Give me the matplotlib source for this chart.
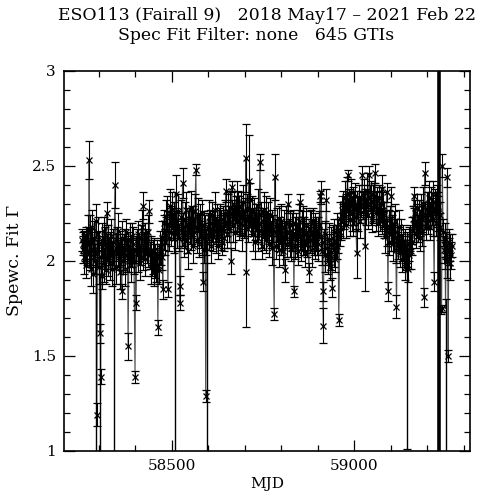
import matplotlib
matplotlib.use("Agg")
import matplotlib.pyplot as plt
import numpy as np

# ---- regular GTI fits: MJD, photon index, symmetric 1-sigma error ----
mjd = [58255.2, 58256.8, 58258.1, 58259.9, 58261.3, 58263.0, 58264.6, 58266.2, 58267.9, 58269.5, 58271.0, 58272.6,
       58274.4, 58276.0, 58277.5, 58279.1, 58280.7, 58282.2, 58283.8, 58285.4, 58287.0, 58288.6, 58290.2, 58292.0,
       58295.0, 58296.8, 58298.4, 58300.0, 58301.6, 58303.2, 58305.5, 58307.0, 58308.6, 58310.3, 58312.0, 58313.7,
       58315.3, 58317.0, 58318.7, 58320.4, 58322.0, 58323.7, 58325.4, 58327.1, 58328.8,
       58330.5, 58332.2, 58334.0, 58335.8, 58337.5, 58339.2, 58341.0, 58345.0, 58346.8, 58348.5, 58350.3, 58352.0,
       58354.0, 58356.0, 58358.0, 58360.0, 58362.0, 58363.5, 58365.5, 58367.5, 58369.5, 58371.5, 58373.5, 58375.5,
       58377.5, 58379.5, 58381.0, 58383.0, 58385.0, 58387.0, 58389.0, 58391.0, 58393.0, 58395.0, 58397.0, 58400.0,
       58401.5, 58403.0,
       58405.0, 58407.0, 58409.0, 58411.0, 58413.0, 58415.0, 58417.0, 58419.0, 58421.0, 58422.5, 58424.5, 58426.5,
       58428.5, 58430.5, 58432.5, 58434.5, 58436.5, 58439.0,
       58441.0, 58443.0, 58445.0, 58447.0, 58449.0, 58451.0, 58453.0, 58455.0, 58457.0, 58459.0, 58461.0, 58462.5,
       58464.5, 58466.5, 58468.5,
       58470.5, 58472.5, 58474.5, 58476.0, 58478.0, 58480.0, 58482.0, 58484.0, 58486.0, 58488.0, 58490.0, 58492.0,
       58494.0, 58495.5, 58497.5, 58499.5, 58501.5, 58503.5, 58505.5, 58507.5, 58511.0, 58513.0, 58515.0, 58517.0,
       58519.0,
       58521.0, 58523.0, 58524.5, 58526.5, 58528.5, 58530.0, 58532.0, 58534.0, 58536.0, 58538.0, 58540.0, 58542.0,
       58544.0, 58546.0, 58548.0, 58550.0, 58552.0, 58554.0, 58556.0, 58558.0,
       58560.0, 58562.0, 58564.0, 58566.5, 58568.5, 58570.5, 58572.5, 58574.5, 58576.5, 58578.5, 58580.5, 58582.5,
       58584.5, 58586.0, 58588.0, 58590.0, 58592.0, 58593.5, 58595.5, 58599.5, 58601.5, 58603.5, 58605.5, 58607.5,
       58609.5, 58611.5, 58613.5, 58615.5, 58618.5,
       58620.5, 58622.5, 58624.5, 58626.5, 58628.5, 58630.5, 58632.5, 58634.5, 58636.5, 58638.5, 58640.5, 58642.5,
       58644.5, 58646.5, 58648.5, 58650.5, 58652.5, 58654.5, 58656.5, 58658.5,
       58661.0, 58663.0, 58664.5, 58666.5, 58668.5, 58670.5, 58672.5, 58674.5, 58676.5, 58678.5, 58680.5, 58682.0,
       58684.0, 58686.0, 58688.0, 58690.0, 58692.0, 58694.0, 58696.0, 58698.0, 58700.0, 58702.0, 58703.5, 58705.0,
       58707.0, 58709.0, 58711.5, 58713.5, 58715.5, 58717.5, 58719.5,
       58721.5, 58723.5, 58725.5, 58727.5, 58729.5, 58731.5, 58733.5, 58735.5, 58737.5, 58739.5, 58742.0, 58744.0,
       58746.0, 58748.0, 58750.0, 58752.0, 58754.0, 58756.0, 58758.0, 58760.0, 58762.0, 58764.0, 58766.0, 58768.0,
       58770.0, 58772.0, 58774.0, 58776.0, 58778.0,
       58781.0, 58783.0, 58785.0, 58787.0, 58789.0, 58791.0, 58793.0, 58795.0, 58797.0, 58799.0, 58801.0, 58803.0,
       58805.0, 58807.0, 58810.0, 58812.0, 58814.0, 58816.0, 58819.0, 58821.0, 58823.0, 58825.0, 58827.0, 58829.0,
       58831.0, 58833.0, 58835.0, 58837.0, 58839.0, 58841.0, 58843.0, 58845.0, 58847.0, 58849.0, 58851.0, 58853.0,
       58855.0, 58857.0, 58859.0, 58861.0, 58863.0, 58865.0, 58867.0, 58869.0, 58871.0, 58873.0, 58876.0, 58878.0,
       58880.0, 58882.0, 58884.0, 58886.0, 58888.0, 58890.0, 58892.0, 58894.0, 58896.0, 58898.0,
       58900.0, 58902.0, 58904.0, 58906.0, 58908.0, 58910.0, 58912.0, 58914.0, 58915.5, 58917.5, 58919.5, 58921.5,
       58924.0, 58926.0, 58928.0, 58930.0, 58932.0, 58934.0, 58936.0, 58938.0, 58940.0, 58942.0, 58944.0, 58946.0,
       58948.0, 58950.0, 58952.0, 58954.0, 58956.0, 58958.0,
       58960.5, 58962.5, 58964.5, 58966.5, 58968.5, 58970.5, 58972.5, 58974.5, 58976.5, 58978.5, 58980.5, 58982.0,
       58984.0, 58986.0, 58988.0, 58990.0, 58992.0, 58994.0, 58996.0, 58998.0, 59000.0, 59002.0, 59004.0, 59007.0,
       59009.0, 59011.0, 59013.0, 59015.0, 59017.0, 59019.5,
       59022.0, 59024.0, 59026.0, 59029.0, 59031.0, 59033.0, 59035.0, 59037.0, 59039.0, 59041.0, 59043.0, 59045.0,
       59047.0, 59049.0, 59051.0, 59053.0, 59055.0, 59057.0, 59059.0, 59061.0, 59063.0, 59065.0, 59067.0, 59069.0,
       59071.0, 59073.0, 59075.0, 59077.0, 59079.0,
       59081.0, 59083.0, 59085.0, 59087.0, 59089.0, 59091.0, 59092.5, 59094.5, 59096.5, 59098.5, 59100.5, 59102.0,
       59104.0, 59106.0, 59108.0, 59110.0, 59112.0, 59114.0, 59116.0, 59118.0, 59120.0, 59122.0, 59124.0, 59126.0,
       59128.0,
       59130.0, 59132.0, 59134.0, 59136.0, 59138.0, 59140.0, 59142.0, 59145.5, 59147.5, 59149.5, 59151.5, 59153.5,
       59155.5, 59157.5,
       59159.5, 59161.5, 59163.0, 59165.0, 59167.0, 59169.0, 59171.0, 59173.0, 59175.0, 59177.0, 59179.0, 59181.0,
       59183.0, 59185.0, 59187.0, 59189.0, 59191.0, 59193.0, 59195.0, 59197.0, 59199.0,
       59201.0, 59203.0, 59205.0, 59207.0, 59209.0, 59211.0, 59213.0, 59215.0, 59217.0, 59219.0, 59221.0, 59223.0,
       59225.0, 59227.0, 59229.0, 59231.0, 59234.0, 59236.0, 59237.5, 59239.5, 59241.5,
       59243.5, 59245.5, 59247.5, 59249.0, 59252.0, 59253.5, 59255.5, 59257.5, 59259.0, 59260.5, 59262.0, 59263.5,
       59265.0, 59266.8]

gamma = [2.11, 2.06, 2.09, 2.02, 2.10, 2.07, 1.98, 2.12, 2.05, 2.09, 2.17, 2.04,
         2.53, 2.15, 2.02, 1.96, 2.10, 2.18, 2.05, 1.93, 2.08, 2.12, 2.00, 2.21,
         1.19, 2.04, 2.14, 1.97, 2.09, 1.62, 1.39, 2.02, 1.92, 2.11, 2.06, 1.98,
         2.16, 2.03, 2.09, 1.95, 2.25, 2.07, 2.01, 2.12, 2.05,
         1.99, 2.08, 2.13, 2.03, 1.96, 2.10, 2.05, 2.40, 2.07, 1.97, 2.11, 2.04,
         2.16, 2.02, 1.94, 2.09, 2.05, 1.84, 2.12, 2.00, 2.07, 1.96, 2.10, 2.15,
         2.03, 2.08, 1.55, 2.01, 2.11, 2.06, 1.98, 2.13, 2.04, 2.09, 2.00, 1.39,
         2.06, 1.78,
         2.10, 2.03, 2.14, 2.07, 1.99, 2.12, 2.05, 2.18, 2.02, 2.29, 2.08, 2.13,
         2.01, 2.10, 2.06, 2.15, 2.04, 2.26,
         2.03, 1.97, 2.06, 1.99, 2.02, 1.94, 2.05, 2.00, 1.96, 2.04, 1.98, 1.65,
         2.02, 1.95, 2.07,
         2.05, 2.12, 2.02, 1.85, 2.15, 2.20, 2.10, 2.23, 2.16, 2.25, 1.85, 2.19,
         2.12, 2.29, 2.22, 2.15, 2.27, 2.18, 2.24, 2.13, 2.35, 2.21, 2.14, 2.26,
         2.19,
         2.12, 1.78, 1.87, 2.23, 2.15, 2.41, 2.18, 2.09, 2.22, 2.14, 2.27, 2.11,
         2.19, 2.05, 2.21, 2.16, 2.28, 2.13, 2.20, 2.08,
         2.22, 2.15, 2.26, 2.48, 2.18, 2.11, 2.24, 2.17, 2.09, 2.21, 2.14, 2.25,
         2.12, 1.89, 2.19, 2.06, 2.15, 1.29, 2.10, 2.18, 2.23, 2.13, 2.20, 2.08,
         2.17, 2.24, 2.14, 2.19, 2.27,
         2.16, 2.11, 2.21, 2.15, 2.08, 2.19, 2.23, 2.13, 2.18, 2.10, 2.22, 2.16,
         2.12, 2.25, 2.37, 2.20, 2.14, 2.26, 2.17, 2.22,
         2.28, 2.00, 2.39, 2.25, 2.19, 2.30, 2.22, 2.15, 2.27, 2.21, 2.33, 2.30,
         2.18, 2.25, 2.20, 2.29, 2.14, 2.24, 2.31, 2.19, 2.26, 2.22, 2.54, 1.94,
         2.28, 2.17, 2.42, 2.25, 2.32, 2.20, 2.27,
         2.21, 2.14, 2.26, 2.18, 2.10, 2.23, 2.17, 2.29, 2.12, 2.20, 2.52, 2.24,
         2.16, 2.08, 2.21, 2.27, 2.13, 2.19, 2.25, 2.11, 2.18, 2.22, 2.09, 2.16,
         2.24, 2.14, 2.20, 2.07, 2.17,
         1.72, 2.44, 2.15, 2.08, 2.19, 2.12, 2.22, 2.06, 2.16, 2.10, 2.21, 2.13,
         2.05, 2.18, 1.95, 2.14, 2.20, 2.09, 2.30, 2.15, 2.11, 2.19, 2.07, 2.16,
         2.12, 2.20, 1.84, 2.14, 2.08, 2.18, 2.11, 2.05, 2.16, 2.21, 2.31, 2.13,
         2.07, 2.17, 2.10, 2.22, 2.14, 2.04, 2.15, 2.19, 2.09, 2.13, 1.94, 2.17,
         2.11, 2.20, 2.06, 2.15, 2.21, 2.12, 2.08, 2.18, 2.14, 2.10,
         2.16, 2.09, 2.19, 2.34, 2.13, 2.36, 2.05, 1.84, 1.66, 2.10, 2.03, 2.14,
         2.32, 2.07, 2.00, 2.11, 2.05, 1.97, 2.09, 2.02, 1.86, 2.12, 2.06, 2.15,
         2.01, 2.10, 2.18, 2.08, 2.13, 1.69,
         2.15, 2.22, 2.18, 2.27, 2.21, 2.30, 2.24, 2.33, 2.19, 2.28, 2.35, 2.45,
         2.26, 2.31, 2.22, 2.29, 2.36, 2.25, 2.32, 2.20, 2.28, 2.34, 2.23, 2.04,
         2.30, 2.25, 2.33, 2.27, 2.21, 2.30,
         2.45, 2.29, 2.34, 2.08, 2.31, 2.26, 2.37, 2.30, 2.24, 2.45, 2.33, 2.28,
         2.35, 2.22, 2.31, 2.27, 2.34, 2.46, 2.29, 2.25, 2.32, 2.20, 2.28, 2.33,
         2.23, 2.30, 2.38, 2.21, 2.27,
         2.19, 2.24, 2.13, 2.20, 2.36, 2.15, 1.84, 2.18, 2.10, 2.22, 2.14, 2.34,
         2.17, 2.09, 2.19, 2.12, 2.21, 2.06, 1.76, 2.15, 2.08, 2.18, 2.11, 2.04,
         2.13,
         2.07, 2.01, 2.10, 2.04, 1.97, 2.08, 2.02, 2.06, 1.96, 2.09, 2.03, 2.12,
         2.05, 2.10,
         2.16, 2.22, 2.34, 2.19, 2.25, 2.14, 2.21, 2.28, 2.17, 2.23, 2.12, 2.20,
         2.26, 2.15, 2.22, 2.30, 1.81, 2.46, 2.24, 2.18, 2.27,
         2.21, 2.29, 2.33, 2.24, 2.18, 2.30, 2.26, 2.35, 2.22, 1.89, 2.31, 2.27,
         2.20, 2.33, 2.25, 2.29, 2.24, 2.18, 1.74, 1.75, 2.50,
         2.15, 2.06, 2.11, 2.03, 2.08, 2.00, 2.44, 1.50, 2.05, 2.10, 1.99, 2.07,
         2.03, 2.08]

err = [0.06, 0.07, 0.06, 0.09, 0.06, 0.07, 0.07, 0.06, 0.07, 0.06, 0.07, 0.07,
       0.10, 0.09, 0.07, 0.09, 0.07, 0.09, 0.07, 0.10, 0.07, 0.09, 0.07, 0.09,
       0.06, 0.07, 0.09, 0.09, 0.07, 0.05, 0.04, 0.09, 0.07, 0.09, 0.07, 0.09,
       0.07, 0.07, 0.09, 0.07, 0.06, 0.07, 0.09, 0.07, 0.07,
       0.09, 0.07, 0.09, 0.07, 0.09, 0.07, 0.07, 0.12, 0.07, 0.09, 0.07, 0.07,
       0.09, 0.07, 0.09, 0.07, 0.07, 0.04, 0.09, 0.07, 0.07, 0.09, 0.07, 0.07,
       0.09, 0.07, 0.07, 0.07, 0.09, 0.07, 0.09, 0.07, 0.07, 0.09, 0.07, 0.03,
       0.07, 0.04,
       0.07, 0.09, 0.07, 0.07, 0.09, 0.07, 0.07, 0.09, 0.07, 0.07, 0.07, 0.07,
       0.09, 0.07, 0.07, 0.09, 0.07, 0.06,
       0.07, 0.09, 0.07, 0.07, 0.09, 0.07, 0.07, 0.09, 0.07, 0.07, 0.09, 0.04,
       0.07, 0.07, 0.09,
       0.07, 0.09, 0.07, 0.05, 0.09, 0.07, 0.07, 0.09, 0.07, 0.09, 0.04, 0.07,
       0.07, 0.09, 0.07, 0.07, 0.09, 0.07, 0.07, 0.09, 0.10, 0.07, 0.07, 0.09,
       0.07,
       0.07, 0.04, 0.05, 0.09, 0.07, 0.08, 0.07, 0.07, 0.09, 0.07, 0.09, 0.07,
       0.07, 0.09, 0.07, 0.07, 0.09, 0.07, 0.07, 0.09,
       0.07, 0.07, 0.09, 0.03, 0.07, 0.07, 0.09, 0.07, 0.07, 0.09, 0.07, 0.07,
       0.09, 0.05, 0.07, 0.07, 0.09, 0.03, 0.07, 0.07, 0.09, 0.07, 0.07, 0.09,
       0.07, 0.07, 0.09, 0.07, 0.09,
       0.07, 0.07, 0.09, 0.07, 0.07, 0.09, 0.07, 0.07, 0.09, 0.07, 0.07, 0.09,
       0.07, 0.07, 0.06, 0.07, 0.07, 0.09, 0.07, 0.07,
       0.09, 0.07, 0.03, 0.07, 0.09, 0.07, 0.07, 0.09, 0.07, 0.07, 0.09, 0.07,
       0.07, 0.09, 0.07, 0.07, 0.09, 0.07, 0.09, 0.07, 0.07, 0.09, 0.18, 0.29,
       0.07, 0.07, 0.24, 0.07, 0.09, 0.07, 0.07,
       0.07, 0.09, 0.07, 0.07, 0.09, 0.07, 0.07, 0.09, 0.07, 0.07, 0.04, 0.07,
       0.09, 0.07, 0.07, 0.09, 0.07, 0.07, 0.09, 0.07, 0.07, 0.09, 0.07, 0.07,
       0.09, 0.07, 0.07, 0.09, 0.07,
       0.03, 0.12, 0.07, 0.07, 0.09, 0.07, 0.07, 0.09, 0.07, 0.07, 0.09, 0.07,
       0.07, 0.09, 0.06, 0.07, 0.09, 0.07, 0.05, 0.07, 0.09, 0.07, 0.07, 0.09,
       0.07, 0.07, 0.03, 0.09, 0.07, 0.07, 0.09, 0.07, 0.07, 0.09, 0.04, 0.07,
       0.07, 0.09, 0.07, 0.07, 0.09, 0.07, 0.07, 0.09, 0.07, 0.07, 0.05, 0.09,
       0.07, 0.07, 0.09, 0.07, 0.07, 0.09, 0.07, 0.07, 0.09, 0.07,
       0.07, 0.09, 0.07, 0.03, 0.07, 0.06, 0.07, 0.05, 0.09, 0.07, 0.09, 0.07,
       0.06, 0.07, 0.07, 0.09, 0.07, 0.07, 0.09, 0.07, 0.05, 0.07, 0.09, 0.07,
       0.07, 0.09, 0.07, 0.07, 0.09, 0.03,
       0.07, 0.09, 0.07, 0.07, 0.09, 0.07, 0.07, 0.09, 0.07, 0.07, 0.09, 0.03,
       0.07, 0.07, 0.09, 0.07, 0.07, 0.09, 0.07, 0.07, 0.09, 0.07, 0.07, 0.13,
       0.07, 0.09, 0.07, 0.07, 0.09, 0.07,
       0.05, 0.07, 0.09, 0.24, 0.07, 0.07, 0.09, 0.07, 0.07, 0.05, 0.07, 0.09,
       0.07, 0.07, 0.09, 0.07, 0.07, 0.05, 0.07, 0.09, 0.07, 0.07, 0.09, 0.07,
       0.07, 0.09, 0.07, 0.07, 0.09,
       0.07, 0.07, 0.09, 0.07, 0.05, 0.07, 0.05, 0.09, 0.07, 0.07, 0.09, 0.05,
       0.07, 0.09, 0.07, 0.07, 0.09, 0.07, 0.06, 0.07, 0.07, 0.09, 0.07, 0.07,
       0.09,
       0.07, 0.07, 0.09, 0.07, 0.07, 0.09, 0.07, 0.07, 0.07, 0.09, 0.07, 0.07,
       0.09, 0.07,
       0.07, 0.07, 0.05, 0.09, 0.07, 0.07, 0.09, 0.07, 0.07, 0.09, 0.07, 0.07,
       0.09, 0.07, 0.07, 0.09, 0.05, 0.06, 0.07, 0.07, 0.09,
       0.07, 0.07, 0.09, 0.07, 0.07, 0.09, 0.07, 0.07, 0.09, 0.05, 0.07, 0.09,
       0.07, 0.07, 0.09, 0.07, 0.07, 0.07, 0.02, 0.02, 0.06,
       0.07, 0.07, 0.09, 0.07, 0.07, 0.09, 0.05, 0.03, 0.07, 0.07, 0.09, 0.07,
       0.07, 0.06]

# ---- GTIs with very large (asymmetric) errors ----
big_mjd = [58293.5, 58304.5, 58342.0, 58509.0, 58597.5, 59143.5, 59250.3]
big_gamma = [1.95, 1.88, 2.00, 2.20, 2.05, 2.10, 1.75]
big_lo = [1.20, 1.20, 1.30, 1.50, 1.30, 1.09, 1.00]
big_hi = [0.05, 0.05, 0.05, 0.06, 0.05, 0.05, 0.05]

# unconstrained fit spanning the full range
huge_mjd = [59232.5]
huge_gamma = [2.20]
huge_err = [3.0]

title1 = "ESO113 (Fairall 9)   2018 May17 \u2013 2021 Feb 22"
title2 = "Spec Fit Filter: none   645 GTIs"
xlabel = "MJD"
ylabel = "Spewc. Fit \u0393"
yticks = [1, 1.5, 2, 2.5, 3]
yticklabels = ["1", "1.5", "2", "2.5", "3"]
xticks = [58500, 59000]

assert len(mjd) == len(gamma) == len(err)

plt.rcParams['font.family'] = ['DejaVu Serif']

fig = plt.figure(figsize=(4.79, 4.95), dpi=100)
ax = fig.add_axes([0.134, 0.0889, 0.847, 0.768])

# connecting line through all fits (time ordered)
all_x = np.array(mjd + big_mjd + huge_mjd)
all_y = np.array(gamma + big_gamma + huge_gamma)
order = np.argsort(all_x)
ax.plot(all_x[order], all_y[order], color='0.3', lw=0.8, zorder=1)

ax.errorbar(mjd, gamma, yerr=err, fmt='x', color='black', ms=4.5, mew=0.9,
            elinewidth=0.8, capsize=3, capthick=0.9, zorder=2)
ax.errorbar(big_mjd, big_gamma, yerr=[big_lo, big_hi], fmt='none', ecolor='black',
            elinewidth=1.0, capsize=3, capthick=0.9, zorder=2)
ax.errorbar(huge_mjd, huge_gamma, yerr=huge_err, fmt='none', ecolor='black',
            elinewidth=2.6, capsize=0, zorder=2)

ax.set_xlim(58206, 59317)
ax.set_ylim(1, 3)
ax.set_xticks(xticks)
ax.set_xticklabels([str(v) for v in xticks])
ax.xaxis.set_minor_locator(matplotlib.ticker.MultipleLocator(100))
ax.set_yticks(yticks)
ax.set_yticklabels(yticklabels)
ax.yaxis.set_minor_locator(matplotlib.ticker.MultipleLocator(0.1))
ax.tick_params(which='both', direction='in', top=True, right=True, width=0.9, labelsize=11)
ax.tick_params(which='major', length=8, pad=6)
ax.tick_params(which='minor', length=4)
for s in ax.spines.values():
    s.set_linewidth(1.2)

ax.set_xlabel(xlabel, fontsize=11, labelpad=3)
ax.set_ylabel(ylabel, fontsize=12.5, labelpad=6)

fig.text(267.5 / 479, 1 - 15.5 / 495, title1, ha='center', va='center', fontsize=12.4)
fig.text(256 / 479, 1 - 36 / 495, title2, ha='center', va='center', fontsize=12.4)

fig.savefig("out.png", dpi=100)
